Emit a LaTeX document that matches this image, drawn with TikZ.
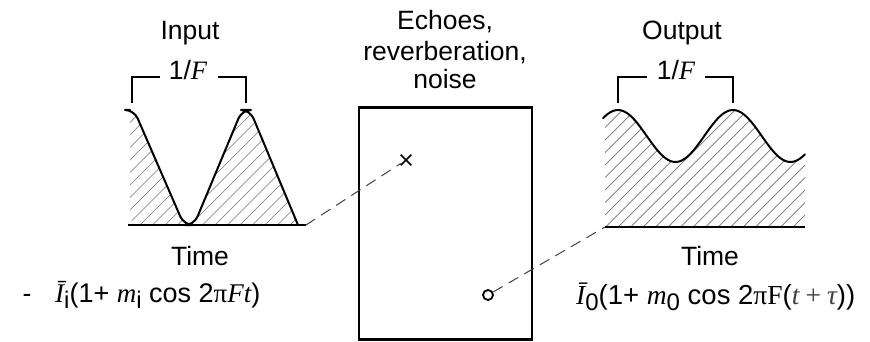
\documentclass[tikz,border=0pt]{standalone}
\usepackage{fontspec}
\setmainfont{Liberation Sans}
\newfontfamily\sr{Liberation Serif}
\usetikzlibrary{shapes.misc}
\newcommand{\mysub}[1]{\raisebox{-6pt}{\fontsize{24}{24}\selectfont #1}}
\tikzset{
  lbl/.style={font=\fontsize{26.5}{29.5}\selectfont, inner sep=0pt, anchor=base},
  formula/.style={font=\fontsize{27.5}{30}\selectfont, inner sep=0pt, anchor=base west},
  axisline/.style={line width=2.8pt},
  wave/.style={line width=2pt, line join=round, line cap=round},
  hatch/.style={draw=black!55, line width=0.7pt},
  bracket/.style={line width=1.3pt},
  conn/.style={line width=1pt, draw=black!75, dash pattern=on 11pt off 7pt},
}
\begin{document}
\begin{tikzpicture}[x=1pt,y=-1pt]
\useasboundingbox (0,0) rectangle (870,342);

% ---------- Input panel ----------
\begin{scope}
  \clip[rounded corners=9pt] (130,225) -- (130,110) -- (134,110) -- (184,226) -- (194,226) -- (242,110) -- (250,110) -- (298,225) -- cycle;
  \foreach \i in {0,12.5,...,320} \draw[hatch] (\i,240) -- ++(170,-170);
\end{scope}
\draw[wave, rounded corners=9pt] (130,110) -- (134,110) -- (184,225) -- (194,225) -- (242,110) -- (250,110) -- (298,225);
\coordinate (inStart) at (128,225);
\coordinate (inEnd) at (306,225);
\draw[axisline] (inStart) -- (inEnd);

\node[lbl] (inTitle) at (190,40) {Input};
\node[lbl] (inPer) at (188,80) {1/{\sr\itshape F}};
\draw[bracket] (132,103) -- (132,77) -- (160,77);
\draw[bracket] (218,77) -- (246,77) -- (246,103);
\node[lbl] (inTime) at (200,265) {Time};
\node[lbl] (dash) at (27,302) {-};
\node[formula, font=\fontsize{27}{30}\selectfont] (inFormula) at (55,302)
  {{\sr\itshape Ī}\mysub{i}(1+ {\sr\itshape m}\mysub{i} cos 2{\sr π}{\sr\itshape Ft})};

% ---------- Box ----------
\node[draw, line width=2.3pt, minimum width=173pt, minimum height=232pt, inner sep=0pt] (box) at (445.5,223.5) {};
\node[lbl] (echo1) at (445,30) {Echoes,};
\node[lbl] (echo2) at (445,60.5) {reverberation,};
\node[lbl] (echo3) at (445,89) {noise};
\node[cross out, draw, line width=1.7pt, minimum size=9pt, inner sep=0pt] (xm) at (406,160) {};
\node[circle, draw, line width=1.8pt, minimum size=10pt, inner sep=0pt] (om) at (488,295) {};

% ---------- Output panel ----------
\begin{scope}
  \clip (605,227) -- (605,118) -- plot[domain=605:805,samples=90] (\x,{136-26*cos(3.13043*(\x-618))}) -- (805,227) -- cycle;
  \foreach \i in {480,492.5,...,830} \draw[hatch] (\i,240) -- ++(170,-170);
\end{scope}
\draw[wave] plot[domain=603:805,samples=90] (\x,{136-26*cos(3.13043*(\x-618))});
\coordinate (outStart) at (605,227);
\coordinate (outEnd) at (805,227);
\draw[axisline] (outStart) -- (outEnd);

\node[lbl] (outTitle) at (682,40) {Output};
\node[lbl] (outPer) at (676,80) {1/{\sr\itshape F}};
\draw[bracket] (618,103) -- (618,77) -- (647,77);
\draw[bracket] (705,77) -- (733,77) -- (733,103);
\node[lbl] (outTime) at (710,265) {Time};
\node[formula] (outFormula) at (576,304)
  {{\sr\itshape Ī}\mysub{0}(1+ {\sr\itshape m}\mysub{0} cos 2{\sr πF}({\sr\itshape\color{black!75} t\,+\,τ}))};

% ---------- connectors ----------
\draw[conn] (inEnd) -- (xm);
\draw[conn] (om) -- (outStart);
\end{tikzpicture}
\end{document}
